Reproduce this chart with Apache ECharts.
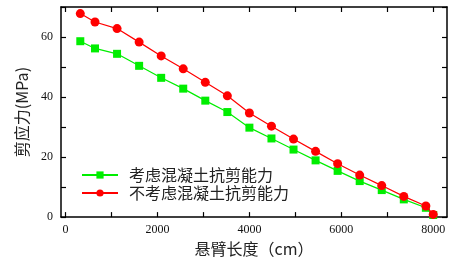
<!DOCTYPE html>
<html>
<head>
<meta charset="utf-8">
<script src="https://cdn.jsdelivr.net/npm/echarts@6/dist/echarts.min.js"></script>
<style>
  html, body { margin: 0; padding: 0; background: #fff; }
  #main { width: 466px; height: 262px; }
</style>
</head>
<body>
<div id="main"></div>
<script>
// 悬臂长度 (cm)
var lengths = [320, 640, 1120, 1600, 2080, 2560, 3040, 3520, 4000, 4480, 4960, 5440, 5920, 6400, 6880, 7360, 7840, 8000];
// 考虑混凝土抗剪能力
var withConcrete = [58.6, 56.2, 54.4, 50.4, 46.4, 42.8, 38.8, 35.0, 29.8, 26.2, 22.5, 18.9, 15.4, 12.0, 9.0, 5.9, 3.1, 0.7];
// 不考虑混凝土抗剪能力
var withoutConcrete = [67.8, 65.0, 62.8, 58.3, 53.7, 49.4, 44.9, 40.4, 34.7, 30.3, 26.0, 21.9, 17.8, 14.0, 10.5, 6.9, 3.7, 0.9];

var xTicks = [0, 1000, 2000, 3000, 4000, 5000, 6000, 7000, 8000];
var xLabels = [0, 2000, 4000, 6000, 8000];
var yTicks = [0, 10, 20, 30, 40, 50, 60, 70];
var yLabels = [0, 20, 40, 60];

var names = ['考虑混凝土抗剪能力', '不考虑混凝土抗剪能力'];

function pairs(xs, ys) {
  return xs.map(function (x, i) { return [x, ys[i]]; });
}

var chart = echarts.init(document.getElementById('main'));

var axisLine = { show: true, onZero: false, lineStyle: { color: '#000', width: 1.5 } };
var serif = '"Liberation Serif", serif';
var cjk = '"Noto Sans CJK SC"';

function ticks(vals) {
  return { show: true, inside: true, length: 5, customValues: vals, lineStyle: { color: '#000', width: 1.2 } };
}
function labels(vals, margin) {
  return {
    customValues: vals,
    margin: margin,
    fontFamily: serif,
    fontSize: 12,
    color: '#111',
    formatter: function (v) { return String(v); }
  };
}

var option = {
  animation: false,
  grid: { left: 61, right: 19, top: 7, bottom: 42 },
  legend: {
    data: names,
    orient: 'vertical',
    left: 76,
    top: 162,
    itemWidth: 36,
    itemHeight: 9,
    itemGap: 2,
    textStyle: { fontFamily: cjk, fontSize: 16, color: '#222', padding: [0, 0, 0, 6] }
  },
  xAxis: [{
    type: 'value',
    min: -100,
    max: 8300,
    name: '悬臂长度（cm）',
    nameLocation: 'middle',
    nameGap: 22,
    nameTextStyle: { fontFamily: cjk, fontSize: 16, color: '#222' },
    axisLine: axisLine,
    axisTick: ticks(xTicks),
    axisLabel: labels(xLabels, 7),
    splitLine: { show: false }
  }, {
    type: 'value',
    position: 'top',
    min: -100,
    max: 8300,
    axisLine: axisLine,
    axisTick: ticks(xTicks),
    axisLabel: { show: false },
    splitLine: { show: false }
  }],
  yAxis: [{
    type: 'value',
    min: 0,
    max: 70,
    name: '剪应力(MPa)',
    nameLocation: 'middle',
    nameGap: 31,
    nameTextStyle: { fontFamily: cjk, fontSize: 16, color: '#222' },
    axisLine: axisLine,
    axisTick: ticks(yTicks),
    axisLabel: labels(yLabels, 8),
    splitLine: { show: false }
  }, {
    type: 'value',
    position: 'right',
    min: 0,
    max: 70,
    axisLine: axisLine,
    axisTick: ticks(yTicks),
    axisLabel: { show: false },
    splitLine: { show: false }
  }],
  series: [{
    name: names[0],
    type: 'line',
    data: pairs(lengths, withConcrete),
    symbol: 'rect',
    symbolSize: 8,
    itemStyle: { color: '#00ee00' },
    lineStyle: { color: '#00ee00', width: 1.2 },
    z: 3
  }, {
    name: names[1],
    type: 'line',
    data: pairs(lengths, withoutConcrete),
    symbol: 'circle',
    symbolSize: 9,
    itemStyle: { color: '#ff0000' },
    lineStyle: { color: '#ff0000', width: 1.2 },
    z: 4
  }]
};

chart.setOption(option);
</script>
</body>
</html>
